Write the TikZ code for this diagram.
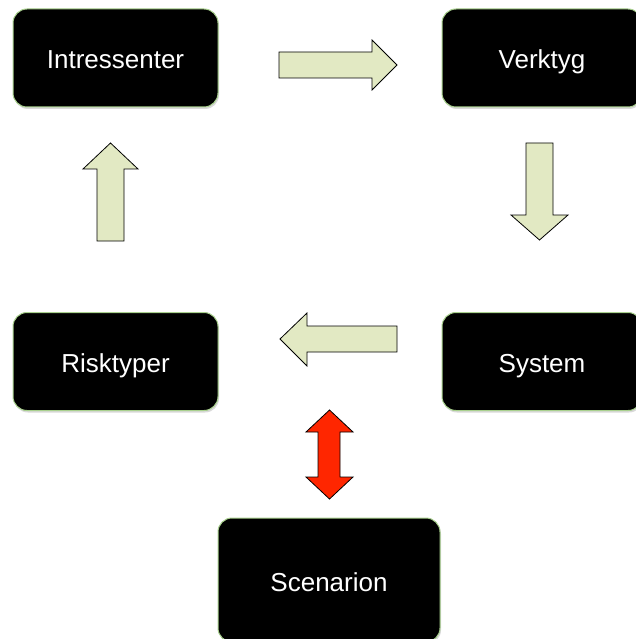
\documentclass[tikz,border=0pt]{standalone}
\usepackage{fontspec}
\setmainfont{Liberation Sans}
\usetikzlibrary{shadows}

\definecolor{boxrim}{HTML}{A9D18E}
\definecolor{arrowfill}{HTML}{E2E9C3}
\definecolor{arrowred}{HTML}{FF2600}

\tikzset{
  stage/.style={rectangle, rounded corners=14pt, fill=black, draw=boxrim,
    line width=1pt, text=white, font=\fontsize{26}{30}\selectfont,
    text height=22pt, text depth=0pt,
    minimum width=205pt, minimum height=98pt,
    drop shadow={opacity=0.3, shadow xshift=1pt, shadow yshift=-2pt}},
  blockarrow/.style={draw=black, line width=0.8pt, fill=arrowfill, line join=miter},
}

\begin{document}
\begin{tikzpicture}[x=1pt, y=-1pt]
\useasboundingbox (0,0) rectangle (636,639);
% boxes
\node[stage] (intressenter) at (115.5,58) {Intressenter};
\node[stage, minimum width=200pt] (verktyg) at (542,58) {Verktyg};
\node[stage] (risktyper) at (115.5,361.5) {Risktyper};
\node[stage, minimum width=200pt] (system) at (542,361.5) {System};
\node[stage, minimum width=222pt, minimum height=124pt] (scenarion) at (329,580) {Scenarion};
% block arrows
\draw[blockarrow] (279,52) -- (372,52) -- (372,40) -- (397,65) -- (372,90) -- (372,78) -- (279,78) -- cycle;
\draw[blockarrow] (526,143) -- (553,143) -- (553,215) -- (568,215) -- (539.5,240) -- (511,215) -- (526,215) -- cycle;
\draw[blockarrow] (397,326) -- (307,326) -- (307,313) -- (280,339) -- (307,366) -- (307,352) -- (397,352) -- cycle;
\draw[blockarrow] (97,241) -- (97,169) -- (83,169) -- (110.5,143) -- (138,169) -- (124,169) -- (124,241) -- cycle;
\draw[blockarrow, fill=arrowred] (329.5,410) -- (353,432) -- (340,432) -- (340,477) -- (353,477) -- (329.5,499)
  -- (306,477) -- (318,477) -- (318,432) -- (306,432) -- cycle;
\end{tikzpicture}
\end{document}
